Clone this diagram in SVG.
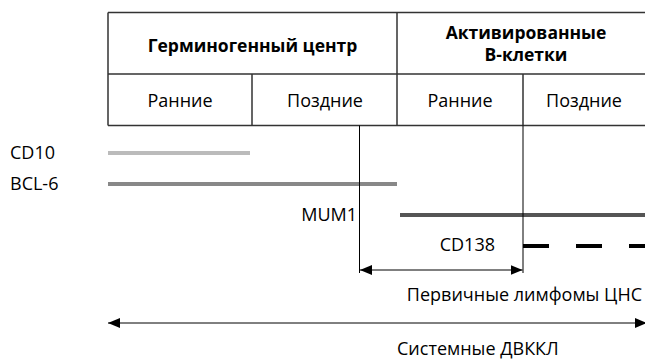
<svg xmlns="http://www.w3.org/2000/svg" width="645" height="361" viewBox="0 0 645 361">
<defs>
<style>
.t{font-family:"Open Sans","Noto Sans","DejaVu Sans",sans-serif;font-size:18px;fill:#000}
.b{font-weight:bold;font-size:17.5px}
.grid{stroke:#333;stroke-width:1.5;fill:none}
.bar{stroke-width:4;fill:none}
.thin{stroke:#000;stroke-width:1;fill:none}
</style>
<marker id="ah" viewBox="0 0 12 10" refX="12" refY="5" markerWidth="12" markerHeight="10" markerUnits="userSpaceOnUse" orient="auto-start-reverse">
<path d="M0,0 L12,5 L0,10 Z" fill="#000"/>
</marker>
</defs>
<rect width="645" height="361" fill="#fff"/>
<g id="table">
<path class="grid" d="M108,12.5 H660 M108,74 H660 M108,125.5 H660 M108,12.5 V125.5 M397,12.5 V125.5 M252,74 V125.5 M523,74 V125.5"/>
<text class="t b" x="252.5" y="52" text-anchor="middle">Герминогенный центр</text>
<text class="t b" x="526" y="39" text-anchor="middle">Активированные</text>
<text class="t b" x="526" y="61" text-anchor="middle">B-клетки</text>
<text class="t" x="180" y="107" text-anchor="middle">Ранние</text>
<text class="t" x="325" y="107" text-anchor="middle">Поздние</text>
<text class="t" x="460" y="107" text-anchor="middle">Ранние</text>
<text class="t" x="584" y="107" text-anchor="middle">Поздние</text>
</g>
<g id="cd10">
<text class="t" x="10" y="159">CD10</text>
<line class="bar" x1="108" y1="153" x2="250" y2="153" stroke="#bbb"/>
</g>
<g id="bcl6">
<text class="t" x="10" y="190">BCL-6</text>
<line class="bar" x1="108" y1="184" x2="397" y2="184" stroke="#888"/>
</g>
<g id="mum1">
<text class="t" x="357" y="221" text-anchor="end">MUM1</text>
<line class="bar" x1="400" y1="215" x2="645" y2="215" stroke="#555"/>
</g>
<g id="cd138">
<text class="t" x="495" y="251" text-anchor="end">CD138</text>
<line class="bar" x1="523" y1="246" x2="645" y2="246" stroke="#000" stroke-dasharray="26 27"/>
</g>
<g id="connectors">
<line class="thin" x1="359.5" y1="125.5" x2="359.5" y2="273"/>
<line class="thin" x1="523" y1="125.5" x2="523" y2="273"/>
<line class="thin" x1="360" y1="270" x2="522.5" y2="270" marker-start="url(#ah)" marker-end="url(#ah)"/>
<line class="thin" x1="108" y1="323" x2="647" y2="323" marker-start="url(#ah)" marker-end="url(#ah)"/>
</g>
<g id="labels">
<text class="t" x="642" y="301" text-anchor="end">Первичные лимфомы ЦНС</text>
<text class="t" x="397" y="355">Системные ДВККЛ</text>
</g>
</svg>
